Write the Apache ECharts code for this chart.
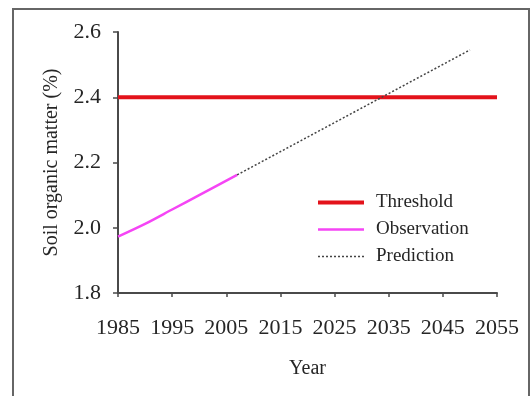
<!DOCTYPE html>
<html>
<head>
<meta charset="utf-8">
<script src="https://cdn.jsdelivr.net/npm/echarts@6/dist/echarts.min.js"></script>
<style>
  html, body { margin: 0; padding: 0; background: #fff; }
  #chart { width: 532px; height: 396px; }
</style>
</head>
<body>
<div id="chart"></div>
<script>
// Soil organic matter: observed trend, projected trend and threshold
const BASE_YEAR = 1985;
const END_YEAR = 2055;

const thresholdYears = [1985, 2055];
const thresholdValues = [2.4, 2.4];

const observationYears = [1985, 1990, 1995, 2000, 2007];
const observationValues = [1.973, 2.012, 2.056, 2.1, 2.162];

const predictionYears = [2007, 2050];
const predictionValues = [2.162, 2.545];

const yTicks = [1.8, 2.0, 2.2, 2.4, 2.6];

const FONT = 'Liberation Serif';
const TEXT = '#262626';
const AXIS = '#4a4a4a';
const RED = '#e3121b';
const PINK = '#f545f5';
const DOT = '#444';

// x positions are years after BASE_YEAR so the 10-year ticks start at the axis origin
const pairs = (years, values) => years.map((y, i) => [y - BASE_YEAR, values[i]]);

const chart = echarts.init(document.getElementById('chart'), null, { renderer: 'canvas' });

chart.setOption({
  backgroundColor: '#fff',
  animation: false,
  graphic: [{
    type: 'rect',
    shape: { x: 13, y: 9, width: 516, height: 400 },
    style: { fill: 'none', stroke: '#666', lineWidth: 2 },
    silent: true
  }],
  grid: { left: 118, right: 35, top: 32, bottom: 103, containLabel: false },
  legend: {
    orient: 'vertical',
    left: 311,
    top: 188,
    itemWidth: 46,
    itemHeight: 14,
    itemGap: 8,
    itemStyle: { opacity: 0 },
    textStyle: { fontFamily: FONT, fontSize: 19, color: TEXT, padding: [0, 0, 0, 7] },
    data: [
      { name: 'Threshold', lineStyle: { width: 4, color: RED } },
      { name: 'Observation', lineStyle: { width: 2.5, color: PINK } },
      { name: 'Prediction', lineStyle: { width: 1.5, color: DOT, type: [2, 2] } }
    ]
  },
  xAxis: {
    type: 'value',
    min: 0,
    max: END_YEAR - BASE_YEAR,
    interval: 10,
    name: 'Year',
    nameLocation: 'middle',
    nameGap: 66,
    nameTextStyle: { fontFamily: FONT, fontSize: 20, color: TEXT },
    axisLine: { show: true, lineStyle: { color: AXIS, width: 2 } },
    axisTick: { show: true, length: 4, lineStyle: { color: AXIS, width: 1.5 } },
    axisLabel: {
      margin: 24,
      fontFamily: FONT, fontSize: 22, color: TEXT,
      formatter: v => String(v + BASE_YEAR)
    },
    splitLine: { show: false }
  },
  yAxis: {
    type: 'value',
    min: yTicks[0],
    max: yTicks[yTicks.length - 1],
    interval: 0.2,
    name: 'Soil organic matter (%)',
    nameLocation: 'middle',
    nameGap: 56,
    nameRotate: 90,
    nameTextStyle: { fontFamily: FONT, fontSize: 20, color: TEXT },
    axisLine: { show: true, lineStyle: { color: AXIS, width: 2 } },
    axisTick: { show: true, length: 5, lineStyle: { color: AXIS, width: 1.5 } },
    axisLabel: {
      margin: 17,
      fontFamily: FONT, fontSize: 22, color: TEXT,
      formatter: v => v.toFixed(1)
    },
    splitLine: { show: false }
  },
  series: [
    {
      name: 'Threshold',
      type: 'line',
      symbol: 'none',
      data: pairs(thresholdYears, thresholdValues),
      lineStyle: { color: RED, width: 4 },
      itemStyle: { color: RED }
    },
    {
      name: 'Observation',
      type: 'line',
      symbol: 'none',
      smooth: 0.3,
      data: pairs(observationYears, observationValues),
      lineStyle: { color: PINK, width: 2.5 },
      itemStyle: { color: PINK }
    },
    {
      name: 'Prediction',
      type: 'line',
      symbol: 'none',
      data: pairs(predictionYears, predictionValues),
      lineStyle: { color: DOT, width: 1.5, type: [2, 2] },
      itemStyle: { color: DOT }
    }
  ]
});
</script>
</body>
</html>
